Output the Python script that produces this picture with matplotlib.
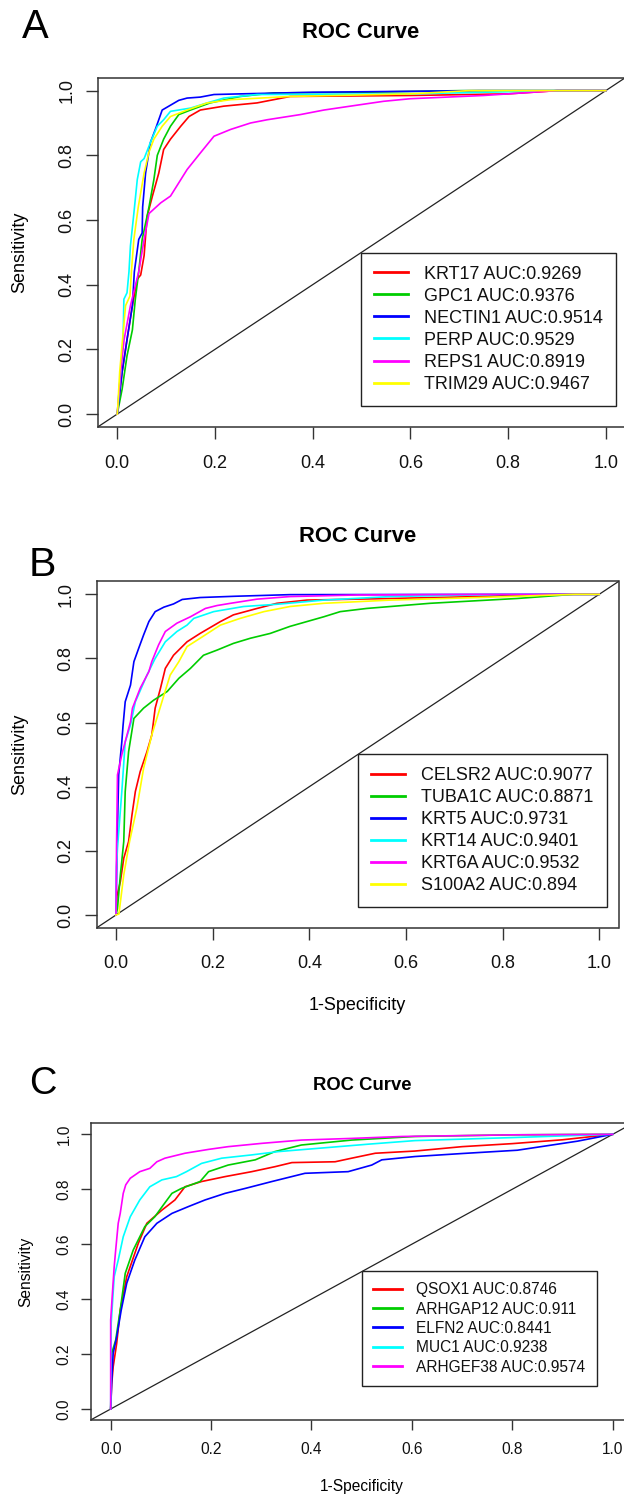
import matplotlib
matplotlib.use("Agg")
import matplotlib.pyplot as plt

plt.rcParams['font.family'] = ['Liberation Sans', 'DejaVu Sans']

W, H = 624, 1494

# ---------------- data ----------------
colors = ['#FF0000', '#00CD00', '#0000FF', '#00FFFF', '#FF00FF', '#FFFF00']

# Panel A
a_names = ['KRT17', 'GPC1', 'NECTIN1', 'PERP', 'REPS1', 'TRIM29']
a_auc = ['0.9269', '0.9376', '0.9514', '0.9529', '0.8919', '0.9467']
krt17_x = [0, 0.01, 0.02, 0.031, 0.041, 0.048, 0.055, 0.061, 0.072, 0.085, 0.095, 0.109, 0.13, 0.147, 0.17, 0.218, 0.286, 0.354, 0.6, 0.8, 0.9, 1.0]
krt17_y = [0, 0.13, 0.23, 0.335, 0.417, 0.43, 0.49, 0.61, 0.674, 0.745, 0.818, 0.85, 0.89, 0.92, 0.94, 0.952, 0.962, 0.982, 0.985, 0.99, 1.0, 1.0]
gpc1_x = [0, 0.01, 0.02, 0.031, 0.037, 0.044, 0.051, 0.065, 0.075, 0.082, 0.095, 0.109, 0.126, 0.15, 0.19, 0.252, 0.32, 0.5, 0.7, 1.0]
gpc1_y = [0, 0.077, 0.18, 0.26, 0.355, 0.44, 0.54, 0.64, 0.725, 0.8, 0.85, 0.89, 0.926, 0.94, 0.962, 0.982, 0.993, 0.995, 1.0, 1.0]
nectin1_x = [0, 0.01, 0.02, 0.031, 0.035, 0.044, 0.051, 0.052, 0.058, 0.068, 0.078, 0.092, 0.126, 0.143, 0.17, 0.198, 0.252, 0.4, 0.74, 1.0]
nectin1_y = [0, 0.13, 0.23, 0.335, 0.44, 0.54, 0.56, 0.64, 0.745, 0.84, 0.88, 0.94, 0.97, 0.977, 0.98, 0.988, 0.99, 0.995, 1.0, 1.0]
perp_x = [0, 0.007, 0.012, 0.0136, 0.02, 0.024, 0.027, 0.034, 0.041, 0.048, 0.055, 0.068, 0.082, 0.095, 0.109, 0.15, 0.184, 0.218, 0.286, 0.6, 0.9, 1.0]
perp_y = [0, 0.13, 0.23, 0.355, 0.375, 0.44, 0.52, 0.62, 0.725, 0.78, 0.79, 0.84, 0.89, 0.91, 0.936, 0.946, 0.962, 0.977, 0.988, 0.99, 1.0, 1.0]
reps1_x = [0, 0.007, 0.014, 0.027, 0.044, 0.055, 0.065, 0.089, 0.109, 0.126, 0.143, 0.17, 0.198, 0.232, 0.273, 0.307, 0.375, 0.423, 0.477, 0.545, 0.6, 0.75, 0.85, 0.9, 1.0]
reps1_y = [0, 0.13, 0.23, 0.335, 0.44, 0.54, 0.62, 0.653, 0.674, 0.715, 0.756, 0.807, 0.859, 0.88, 0.9, 0.91, 0.926, 0.94, 0.952, 0.967, 0.975, 0.985, 0.995, 1.0, 1.0]
trim29_x = [0, 0.001, 0.005, 0.017, 0.026, 0.029, 0.034, 0.043, 0.055, 0.065, 0.075, 0.092, 0.109, 0.143, 0.184, 0.232, 0.354, 0.6, 0.72, 1.0]
trim29_y = [0, 0.02, 0.13, 0.335, 0.365, 0.44, 0.54, 0.64, 0.745, 0.81, 0.85, 0.89, 0.92, 0.94, 0.962, 0.972, 0.982, 0.99, 1.0, 1.0]

# Panel B
b_names = ['CELSR2', 'TUBA1C', 'KRT5', 'KRT14', 'KRT6A', 'S100A2']
b_auc = ['0.9077', '0.8871', '0.9731', '0.9401', '0.9532', '0.894']
celsr2_x = [0, 0.002, 0.009, 0.016, 0.026, 0.033, 0.04, 0.05, 0.064, 0.074, 0.081, 0.092, 0.102, 0.119, 0.147, 0.174, 0.216, 0.243, 0.292, 0.333, 0.395, 0.568, 0.75, 0.9, 1.0]
celsr2_y = [0, 0.06, 0.104, 0.177, 0.229, 0.312, 0.385, 0.447, 0.509, 0.561, 0.645, 0.707, 0.769, 0.81, 0.852, 0.878, 0.915, 0.936, 0.956, 0.972, 0.982, 0.987, 0.993, 1.0, 1.0]
tuba1c_x = [0, 0.003, 0.009, 0.016, 0.019, 0.026, 0.037, 0.057, 0.078, 0.106, 0.13, 0.154, 0.181, 0.209, 0.243, 0.278, 0.319, 0.36, 0.395, 0.43, 0.464, 0.519, 0.568, 0.65, 0.83, 0.947, 1.0]
tuba1c_y = [0, 0.02, 0.125, 0.229, 0.385, 0.509, 0.613, 0.645, 0.67, 0.697, 0.738, 0.769, 0.81, 0.826, 0.847, 0.863, 0.878, 0.9, 0.915, 0.93, 0.946, 0.956, 0.962, 0.972, 0.987, 1.0, 1.0]
krt5_x = [0, 0.002, 0.0055, 0.012, 0.0145, 0.019, 0.03, 0.037, 0.047, 0.057, 0.068, 0.081, 0.099, 0.119, 0.137, 0.174, 0.247, 0.36, 1.0]
krt5_y = [0, 0.208, 0.437, 0.54, 0.59, 0.665, 0.717, 0.79, 0.832, 0.873, 0.915, 0.946, 0.96, 0.97, 0.984, 0.99, 0.994, 0.999, 1.0]
krt14_x = [0, 0.001, 0.003, 0.012, 0.019, 0.03, 0.04, 0.064, 0.081, 0.102, 0.126, 0.147, 0.161, 0.202, 0.264, 0.333, 0.43, 0.568, 0.8, 1.0]
krt14_y = [0, 0.15, 0.208, 0.385, 0.54, 0.593, 0.665, 0.748, 0.8, 0.852, 0.884, 0.904, 0.925, 0.946, 0.962, 0.969, 0.982, 0.993, 1.0, 1.0]
krt6a_x = [0, 0.001, 0.003, 0.012, 0.019, 0.03, 0.034, 0.05, 0.068, 0.074, 0.088, 0.102, 0.126, 0.154, 0.185, 0.209, 0.237, 0.292, 0.36, 0.5, 0.8, 1.0]
krt6a_y = [0, 0.208, 0.437, 0.5, 0.54, 0.603, 0.645, 0.707, 0.759, 0.79, 0.842, 0.884, 0.91, 0.93, 0.956, 0.965, 0.972, 0.985, 0.993, 0.998, 1.0, 1.0]
s100a2_x = [0, 0.006, 0.016, 0.028, 0.043, 0.057, 0.074, 0.095, 0.112, 0.13, 0.147, 0.174, 0.216, 0.257, 0.306, 0.36, 0.43, 0.568, 0.75, 0.95, 1.0]
s100a2_y = [0, 0.003, 0.125, 0.229, 0.333, 0.457, 0.561, 0.665, 0.748, 0.79, 0.837, 0.863, 0.904, 0.925, 0.946, 0.962, 0.972, 0.982, 0.99, 1.0, 1.0]

# Panel C
c_names = ['QSOX1', 'ARHGAP12', 'ELFN2', 'MUC1', 'ARHGEF38']
c_auc = ['0.8746', '0.911', '0.8441', '0.9238', '0.9574']
qsox1_x = [0, 0.002, 0.005, 0.012, 0.019, 0.032, 0.055, 0.072, 0.102, 0.128, 0.148, 0.181, 0.228, 0.281, 0.327, 0.361, 0.447, 0.48, 0.527, 0.606, 0.7, 0.8, 0.9, 1.0]
qsox1_y = [0, 0.09, 0.154, 0.239, 0.36, 0.482, 0.603, 0.676, 0.724, 0.761, 0.809, 0.828, 0.846, 0.864, 0.882, 0.897, 0.9, 0.913, 0.931, 0.939, 0.955, 0.966, 0.98, 1.0]
arhgap12_x = [0, 0.002, 0.01, 0.019, 0.029, 0.045, 0.068, 0.088, 0.105, 0.122, 0.141, 0.178, 0.195, 0.234, 0.288, 0.327, 0.38, 0.48, 0.606, 0.8, 1.0]
arhgap12_y = [0, 0.203, 0.251, 0.36, 0.494, 0.579, 0.664, 0.7, 0.743, 0.785, 0.803, 0.828, 0.864, 0.888, 0.907, 0.937, 0.961, 0.979, 0.992, 0.998, 1.0]
elfn2_x = [0, 0.002, 0.005, 0.012, 0.021, 0.032, 0.048, 0.068, 0.092, 0.122, 0.155, 0.188, 0.228, 0.268, 0.321, 0.387, 0.473, 0.52, 0.54, 0.606, 0.7, 0.81, 0.93, 1.0]
elfn2_y = [0, 0.1, 0.203, 0.263, 0.36, 0.458, 0.542, 0.627, 0.676, 0.712, 0.737, 0.761, 0.785, 0.803, 0.828, 0.858, 0.864, 0.888, 0.907, 0.919, 0.93, 0.942, 0.975, 1.0]
muc1_x = [0, 0.001, 0.007, 0.015, 0.025, 0.039, 0.058, 0.078, 0.102, 0.131, 0.151, 0.181, 0.221, 0.281, 0.334, 0.414, 0.513, 0.606, 0.8, 1.0]
muc1_y = [0, 0.312, 0.482, 0.542, 0.627, 0.7, 0.761, 0.809, 0.834, 0.846, 0.864, 0.894, 0.913, 0.925, 0.937, 0.949, 0.964, 0.977, 0.988, 1.0]
arhgef38_x = [0, 0.0, 0.003, 0.007, 0.01, 0.015, 0.019, 0.025, 0.03, 0.039, 0.058, 0.078, 0.092, 0.108, 0.148, 0.195, 0.234, 0.301, 0.38, 0.48, 0.58, 0.8, 1.0]
arhgef38_y = [0, 0.324, 0.409, 0.518, 0.579, 0.676, 0.712, 0.785, 0.816, 0.84, 0.864, 0.876, 0.9, 0.913, 0.931, 0.945, 0.955, 0.967, 0.979, 0.985, 0.992, 0.998, 1.0]

ticks = [0.0, 0.2, 0.4, 0.6, 0.8, 1.0]
tick_labels = ['0.0', '0.2', '0.4', '0.6', '0.8', '1.0']

# ---------------- helpers ----------------
PT = 72.0 / 100.0  # points per pixel at dpi=100

fig = plt.figure(figsize=(W / 100, H / 100), dpi=100)


def add_axes_px(left, top, right, bottom):
    return fig.add_axes([left / W, 1 - bottom / H, (right - left) / W, (bottom - top) / H])


def ftext(x, y, s, size_px, **kw):
    fig.text(x / W, 1 - y / H, s, fontsize=size_px * PT, **kw)


def setup(ax, fs_px, ticklen_px, xpad_px, ypad_px):
    ax.set_xlim(-0.04, 1.04)
    ax.set_ylim(-0.04, 1.04)
    ax.set_xticks(ticks)
    ax.set_xticklabels(tick_labels)
    ax.set_yticks(ticks)
    ax.set_yticklabels(tick_labels, rotation=90, va='center')
    ax.tick_params(axis='both', direction='out', length=ticklen_px * PT, width=1.0,
                   color='#333333', labelsize=fs_px * PT, labelcolor='#111111')
    ax.tick_params(axis='x', pad=xpad_px * PT)
    ax.tick_params(axis='y', pad=ypad_px * PT)
    for s in ax.spines.values():
        s.set_color('#333333')
        s.set_linewidth(1.1)
    ax.axline((0, 0), (1, 1), color='#222222', lw=0.9, zorder=1)


def draw_curves(ax, xs, ys, names, aucs, fs_px, legend_left, legend_top):
    for x, y, c, n, a in zip(xs, ys, colors, names, aucs):
        ax.plot(x, y, color=c, lw=1.2, label=f'{n} AUC:{a}', zorder=2)
    leg = ax.legend(loc='upper left', bbox_to_anchor=(legend_left / W, 1 - legend_top / H),
                    bbox_transform=fig.transFigure, borderaxespad=0, fancybox=False,
                    framealpha=1, edgecolor='#222222', fontsize=fs_px * PT,
                    handlelength=1.9, handletextpad=0.9, labelspacing=0.28, borderpad=0.72)
    leg.get_frame().set_linewidth(1.0)
    for line in leg.get_lines():
        line.set_linewidth(2.0)
    for t in leg.get_texts():
        t.set_color('#111111')
    leg.set_zorder(5)


# ---------------- Panel A ----------------
axA = add_axes_px(97.7, 77.7, 625.3, 427.0)
setup(axA, 18, 12, 15.5, 10)
draw_curves(axA,
            [krt17_x, gpc1_x, nectin1_x, perp_x, reps1_x, trim29_x],
            [krt17_y, gpc1_y, nectin1_y, perp_y, reps1_y, trim29_y],
            a_names, a_auc, 18, 361, 252.7)
ftext(22, 38, 'A', 40, ha='left', va='baseline')
ftext(361, 33, 'ROC Curve', 22, ha='center', va='center', fontweight='bold')
ftext(20, 252.5, 'Sensitivity', 18, ha='center', va='center', rotation=90)

# ---------------- Panel B ----------------
axB = add_axes_px(96.7, 581.5, 618.5, 927.8)
setup(axB, 18, 12, 15.5, 10)
draw_curves(axB,
            [celsr2_x, tuba1c_x, krt5_x, krt14_x, krt6a_x, s100a2_x],
            [celsr2_y, tuba1c_y, krt5_y, krt14_y, krt6a_y, s100a2_y],
            b_names, b_auc, 18, 358, 754)
ftext(29, 576, 'B', 41, ha='left', va='baseline')
ftext(357.6, 537, 'ROC Curve', 22, ha='center', va='center', fontweight='bold')
ftext(20, 754.6, 'Sensitivity', 18, ha='center', va='center', rotation=90)
ftext(357.6, 1005, '1-Specificity', 18, ha='center', va='center')

# ---------------- Panel C ----------------
axC = add_axes_px(90.6, 1123.3, 632.8, 1420.0)
setup(axC, 15.5, 10, 12.5, 9)
draw_curves(axC,
            [qsox1_x, arhgap12_x, elfn2_x, muc1_x, arhgef38_x],
            [qsox1_y, arhgap12_y, elfn2_y, muc1_y, arhgef38_y],
            c_names, c_auc, 15.5, 361.8, 1271)
ftext(29, 1094, 'C', 38, ha='left', va='baseline')
ftext(361.8, 1085, 'ROC Curve', 18.5, ha='center', va='center', fontweight='bold')
ftext(26, 1271.7, 'Sensitivity', 15.5, ha='center', va='center', rotation=90)
ftext(361.8, 1486, '1-Specificity', 15.5, ha='center', va='center')

fig.savefig('out.png', dpi=100, facecolor='white')
